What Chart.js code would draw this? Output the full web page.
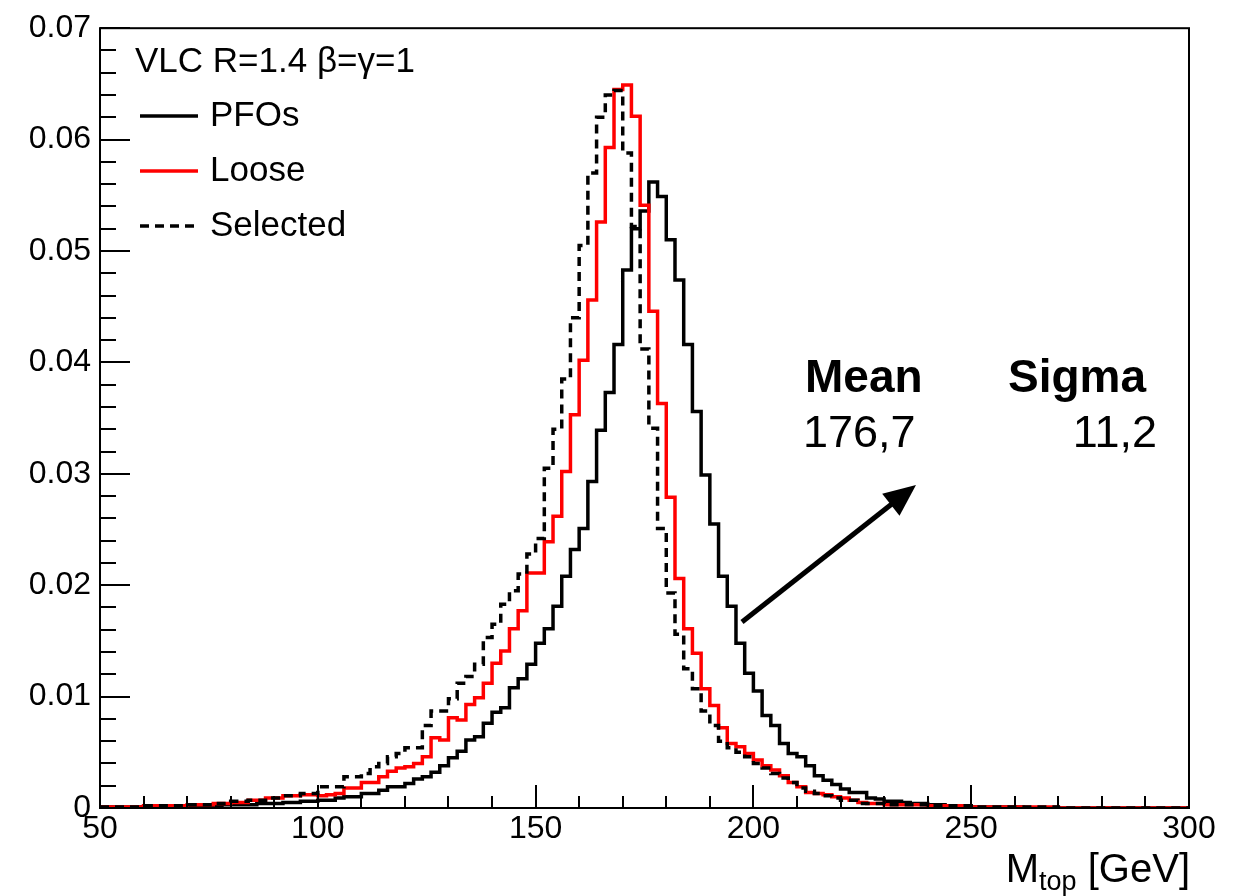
<!DOCTYPE html>
<html><head><meta charset="utf-8">
<script src="https://cdn.jsdelivr.net/npm/chart.js@4/dist/chart.umd.min.js"></script>
<style>html,body{margin:0;padding:0;background:#fff;} #c{display:block;}</style>
</head><body>
<canvas id="c" width="1244" height="896"></canvas>
<script>
// ---- data (bin contents, 2 GeV bins from 50 to 300 GeV) ----
const binLow = 50;
const binWidth = 2;
const pfos = [
0.0001,0.0001,0.0001,0.0001,0.0001,0.0001,0.0001,0.0001,0.0001,0.0002,
0.0002,0.0002,0.0002,0.0002,0.0003,0.0003,0.0003,0.0003,0.0004,0.0004,
0.0004,0.0005,0.0005,0.0006,0.0006,0.0007,0.0007,0.0009,0.0010,0.0010,
0.0013,0.0013,0.0016,0.0019,0.0019,0.0022,0.0026,0.0028,0.0032,0.0038,
0.0045,0.0051,0.0061,0.0064,0.0076,0.0086,0.0090,0.0108,0.0116,0.0129,
0.0148,0.0161,0.0181,0.0208,0.0232,0.0251,0.0293,0.0339,0.0373,0.0416,
0.0483,0.0520,0.0536,0.0562,0.0549,0.0510,0.0474,0.0416,0.0356,0.0299,
0.0255,0.0208,0.0181,0.0148,0.0121,0.0105,0.0083,0.0074,0.0058,0.0049,
0.0046,0.0038,0.0029,0.0025,0.0021,0.0017,0.0014,0.0014,0.0009,0.0008,
0.0006,0.0006,0.0005,0.0004,0.0004,0.0003,0.0003,0.0002,0.0002,0.0002,
0.0001,0.0001,0.0001,0.0001,0.0001,0.0001,0,0,0,0,
0,0,0,0,0,0,0,0,0,0,
0,0,0,0,0];
const loose = [
0.0001,0.0001,0.0001,0.0001,0.0001,0.0002,0.0002,0.0002,0.0002,0.0002,
0.0003,0.0003,0.0003,0.0004,0.0004,0.0005,0.0005,0.0007,0.0007,0.0009,
0.0009,0.0011,0.0011,0.0012,0.0012,0.0011,0.0012,0.0013,0.0018,0.0018,
0.0023,0.0023,0.0028,0.0033,0.0036,0.0037,0.0040,0.0046,0.0063,0.0061,
0.0081,0.0079,0.0093,0.0099,0.0112,0.0130,0.0141,0.0161,0.0177,0.0211,
0.0211,0.0239,0.0262,0.0302,0.0353,0.0402,0.0456,0.0526,0.0593,0.0645,
0.0649,0.0621,0.0541,0.0446,0.0363,0.0279,0.0206,0.0161,0.0139,0.0107,
0.0092,0.0072,0.0058,0.0055,0.0049,0.0043,0.0038,0.0034,0.0029,0.0023,
0.0019,0.0014,0.0013,0.0012,0.0010,0.0009,0.0007,0.0005,0.0004,0.0004,
0.0003,0.0003,0.0003,0.0003,0.0003,0.0002,0.0002,0.0002,0.0002,0.0002,
0.0001,0.0001,0.0001,0.0001,0.0001,0.0001,0.0001,0.0001,0.0001,0.0001,
0,0,0,0,0,0,0,0,0,0,
0,0,0,0,0];
const selected = [
0.0001,0.0001,0.0001,0.0001,0.0001,0.0002,0.0002,0.0002,0.0002,0.0002,
0.0003,0.0003,0.0003,0.0004,0.0004,0.0006,0.0006,0.0007,0.0007,0.0009,
0.0009,0.0011,0.0011,0.0013,0.0013,0.0019,0.0019,0.0019,0.0028,0.0028,
0.0031,0.0037,0.0040,0.0046,0.0049,0.0054,0.0054,0.0074,0.0087,0.0087,
0.0098,0.0112,0.0118,0.0129,0.0153,0.0165,0.0183,0.0195,0.0210,0.0228,
0.0242,0.0305,0.0340,0.0385,0.0440,0.0505,0.0570,0.0620,0.0640,0.0644,
0.0588,0.0522,0.0412,0.0341,0.0251,0.0193,0.0156,0.0125,0.0107,0.0087,
0.0074,0.0060,0.0054,0.0050,0.0046,0.0040,0.0036,0.0031,0.0027,0.0023,
0.0018,0.0015,0.0013,0.0011,0.0009,0.0007,0.0007,0.0004,0.0004,0.0004,
0.0003,0.0003,0.0003,0.0003,0.0003,0.0002,0.0002,0.0002,0.0002,0.0002,
0.0001,0.0001,0.0001,0.0001,0.0001,0.0001,0.0001,0.0001,0.0001,0.0001,
0,0,0,0,0,0,0,0,0,0,
0,0,0,0,0];
const xTicks = [50, 100, 150, 200, 250, 300];
const yTicks = [0, 0.01, 0.02, 0.03, 0.04, 0.05, 0.06, 0.07];
const seriesNames = ['PFOs', 'Loose', 'Selected'];
const legendTitle = 'VLC R=1.4 \u03B2=\u03B3=1';
const statHeaders = ['Mean', 'Sigma'];
const statValues = ['176,7', '11,2'];

const FONT = '"Liberation Sans", Arial, Helvetica, sans-serif';

function toSteps(vals) {
  const pts = vals.map((v, i) => ({x: binLow + i * binWidth, y: v}));
  pts.push({x: binLow + vals.length * binWidth, y: vals[vals.length - 1]});
  return pts;
}

const decor = {
  id: 'decor',
  afterDatasetsDraw(chart) {
    const ctx = chart.ctx;
    const a = chart.chartArea;
    const xs = chart.scales.x, ys = chart.scales.y;
    ctx.save();
    ctx.strokeStyle = '#000';
    ctx.fillStyle = '#000';
    // frame
    ctx.lineWidth = 2;
    ctx.strokeRect(a.left, a.top, a.right - a.left, a.bottom - a.top);
    // y ticks (major + 4 minor per interval)
    ctx.lineWidth = 2;
    for (let i = 0; i < yTicks.length; i++) {
      const py = Math.round(ys.getPixelForValue(yTicks[i]));
      ctx.beginPath(); ctx.moveTo(a.left, py); ctx.lineTo(a.left + 30, py); ctx.stroke();
      if (i < yTicks.length - 1) {
        for (let k = 1; k < 5; k++) {
          const v = yTicks[i] + (yTicks[i + 1] - yTicks[i]) * k / 5;
          const q = Math.round(ys.getPixelForValue(v));
          ctx.beginPath(); ctx.moveTo(a.left, q); ctx.lineTo(a.left + 16, q); ctx.stroke();
        }
      }
    }
    // x ticks
    for (let i = 0; i < xTicks.length; i++) {
      const px = Math.round(xs.getPixelForValue(xTicks[i]));
      ctx.beginPath(); ctx.moveTo(px, a.bottom); ctx.lineTo(px, a.bottom - 23); ctx.stroke();
      if (i < xTicks.length - 1) {
        for (let k = 1; k < 5; k++) {
          const v = xTicks[i] + (xTicks[i + 1] - xTicks[i]) * k / 5;
          const q = Math.round(xs.getPixelForValue(v));
          ctx.beginPath(); ctx.moveTo(q, a.bottom); ctx.lineTo(q, a.bottom - 12); ctx.stroke();
        }
      }
    }
    // legend
    ctx.textBaseline = 'middle';
    ctx.textAlign = 'left';
    ctx.font = '35px ' + FONT;
    ctx.fillText(legendTitle, 135, 62);
    const rows = [116, 171, 226];
    chart.data.datasets.forEach((ds, i) => {
      ctx.save();
      ctx.strokeStyle = ds.borderColor;
      ctx.lineWidth = 3.5;
      ctx.setLineDash(ds.borderDash || []);
      ctx.beginPath(); ctx.moveTo(140, rows[i]); ctx.lineTo(198, rows[i]); ctx.stroke();
      ctx.restore();
      ctx.fillText(ds.label, 210, rows[i]);
    });
    // stats box
    ctx.textBaseline = 'alphabetic';
    ctx.font = 'bold 46px ' + FONT;
    ctx.fillText(statHeaders[0], 805, 392);
    ctx.fillText(statHeaders[1], 1008, 392);
    ctx.font = '45px ' + FONT;
    ctx.fillText(statValues[0], 803, 447);
    ctx.textAlign = 'right';
    ctx.fillText(statValues[1], 1157, 447);
    // arrow
    const x0 = 742, y0 = 622, x1 = 916, y1 = 485;
    const ang = Math.atan2(y1 - y0, x1 - x0);
    const hl = 32, hw = 14;
    const bx = x1 - hl * Math.cos(ang), by = y1 - hl * Math.sin(ang);
    ctx.lineWidth = 5;
    ctx.beginPath(); ctx.moveTo(x0, y0); ctx.lineTo(bx + 4 * Math.cos(ang), by + 4 * Math.sin(ang)); ctx.stroke();
    ctx.beginPath();
    ctx.moveTo(x1, y1);
    ctx.lineTo(bx - hw * Math.sin(ang), by + hw * Math.cos(ang));
    ctx.lineTo(bx + hw * Math.sin(ang), by - hw * Math.cos(ang));
    ctx.closePath(); ctx.fill();
    // x axis title with subscript, right aligned
    ctx.textAlign = 'left';
    const big = '40px ' + FONT, small = '27px ' + FONT;
    ctx.font = big; const wM = ctx.measureText('M').width; const wG = ctx.measureText(' [GeV]').width;
    ctx.font = small; const wS = ctx.measureText('top').width;
    let tx = a.right + 1 - (wM + wS + wG);
    ctx.font = big; ctx.fillText('M', tx, 882); tx += wM;
    ctx.font = small; ctx.fillText('top', tx, 890); tx += wS;
    ctx.font = big; ctx.fillText(' [GeV]', tx, 882);
    ctx.restore();
  }
};

new Chart(document.getElementById('c'), {
  type: 'line',
  data: {
    datasets: [
      {label: seriesNames[0], data: toSteps(pfos), borderColor: '#000000', borderWidth: 3.5, stepped: true, order: 2},
      {label: seriesNames[1], data: toSteps(loose), borderColor: '#ff0000', borderWidth: 3.5, stepped: true, order: 1},
      {label: seriesNames[2], data: toSteps(selected), borderColor: '#000000', borderWidth: 3.5, borderDash: [9, 6], stepped: true, order: 0}
    ]
  },
  options: {
    responsive: false,
    animation: false,
    devicePixelRatio: 1,
    layout: {padding: {top: 24, right: 55, left: 0, bottom: 0}},
    plugins: {legend: {display: false}, tooltip: {enabled: false}},
    elements: {point: {radius: 0}, line: {tension: 0, fill: false}},
    scales: {
      x: {
        type: 'linear', min: 50, max: 300,
        grid: {display: false, drawTicks: false}, border: {display: false},
        afterBuildTicks: s => { s.ticks = xTicks.map(v => ({value: v})); },
        afterFit: s => { s.height = 88; },
        ticks: {font: {family: FONT, size: 32}, color: '#000', padding: 2, maxRotation: 0, autoSkip: false,
                callback: v => String(v)}
      },
      y: {
        type: 'linear', min: 0, max: 0.07,
        grid: {display: false, drawTicks: false}, border: {display: false},
        afterBuildTicks: s => { s.ticks = yTicks.map(v => ({value: v})); },
        afterFit: s => { s.width = 100; },
        ticks: {font: {family: FONT, size: 32}, color: '#000', padding: 9, autoSkip: false,
                callback: v => (v === 0 ? '0' : Number(v).toFixed(2))}
      }
    }
  },
  plugins: [decor]
});
</script>
</body></html>
